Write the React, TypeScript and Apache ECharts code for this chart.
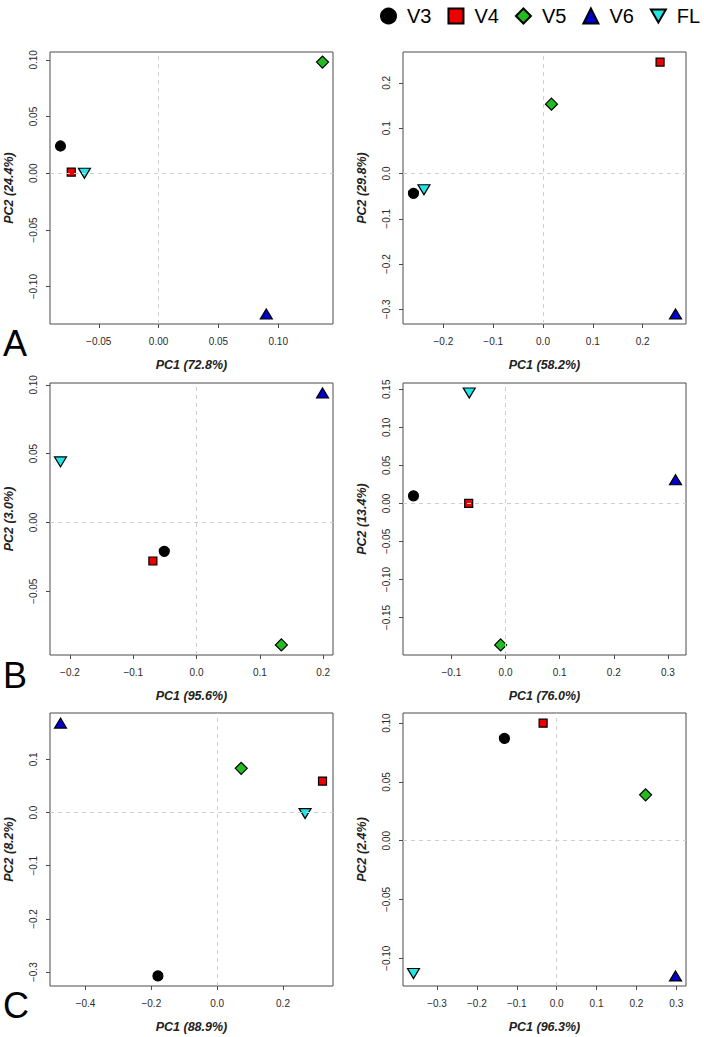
import React, { useEffect, useRef } from "react";
import * as echarts from "echarts";

// Groups (legend order)
const groups = ["V3", "V4", "V5", "V6", "FL"];

// PCA scores per panel, values in group order V3, V4, V5, V6, FL
const pc1A1 = [-0.082, -0.073, 0.137, 0.090, -0.062];
const pc2A1 = [0.024, 0.001, 0.098, -0.124, 0.000];
const pc1A2 = [-0.260, 0.235, 0.017, 0.266, -0.239];
const pc2A2 = [-0.044, 0.246, 0.153, -0.310, -0.036];
const pc1B1 = [-0.051, -0.069, 0.134, 0.199, -0.215];
const pc2B1 = [-0.021, -0.028, -0.089, 0.094, 0.044];
const pc1B2 = [-0.170, -0.068, -0.009, 0.314, -0.067];
const pc2B2 = [0.010, 0.000, -0.186, 0.031, 0.145];
const pc1C1 = [-0.180, 0.320, 0.073, -0.476, 0.267];
const pc2C1 = [-0.307, 0.059, 0.083, 0.168, -0.002];
const pc1C2 = [-0.131, -0.034, 0.223, 0.298, -0.359];
const pc2C2 = [0.087, 0.100, 0.039, -0.115, -0.113];

// Axis titles
const xNames = ["PC1 (72.8%)", "PC1 (58.2%)", "PC1 (95.6%)", "PC1 (76.0%)", "PC1 (88.9%)", "PC1 (96.3%)"];
const yNames = ["PC2 (24.4%)", "PC2 (29.8%)", "PC2 (3.0%)", "PC2 (13.4%)", "PC2 (8.2%)", "PC2 (2.4%)"];

// Tick values
const xTicksA1 = [-0.05, 0, 0.05, 0.1];
const yTicksA1 = [-0.1, -0.05, 0, 0.05, 0.1];
const xTicksA2 = [-0.2, -0.1, 0, 0.1, 0.2];
const yTicksA2 = [-0.3, -0.2, -0.1, 0, 0.1, 0.2];
const xTicksB1 = [-0.2, -0.1, 0, 0.1, 0.2];
const yTicksB1 = [-0.05, 0, 0.05, 0.1];
const xTicksB2 = [-0.1, 0, 0.1, 0.2, 0.3];
const yTicksB2 = [-0.15, -0.1, -0.05, 0, 0.05, 0.1, 0.15];
const xTicksC1 = [-0.4, -0.2, 0, 0.2];
const yTicksC1 = [-0.3, -0.2, -0.1, 0, 0.1];
const xTicksC2 = [-0.3, -0.2, -0.1, 0, 0.1, 0.2, 0.3];
const yTicksC2 = [-0.1, -0.05, 0, 0.05, 0.1];

const xDecimals = [2, 1, 1, 1, 1, 1];
const yDecimals = [2, 1, 2, 2, 1, 2];

const panelLetters = ["A", "B", "C"];

const FONT = "'Liberation Sans', Arial, Helvetica, sans-serif";

const panels = [
  { x: pc1A1, y: pc2A1, xt: xTicksA1, yt: yTicksA1 },
  { x: pc1A2, y: pc2A2, xt: xTicksA2, yt: yTicksA2 },
  { x: pc1B1, y: pc2B1, xt: xTicksB1, yt: yTicksB1 },
  { x: pc1B2, y: pc2B2, xt: xTicksB2, yt: yTicksB2 },
  { x: pc1C1, y: pc2C1, xt: xTicksC1, yt: yTicksC1 },
  { x: pc1C2, y: pc2C2, xt: xTicksC2, yt: yTicksC2 },
];

const symbolDefs: Record<string, any> = {
  V3: { symbol: "circle", size: 10, color: "#000000" },
  V4: { symbol: "rect", size: 8, color: "#ee0000" },
  V5: { symbol: "diamond", size: 12, color: "#22bb22" },
  V6: { symbol: "triangle", size: [12, 10], color: "#0000cc" },
  FL: { symbol: "path://M0,0L2,0L1,1.73Z", size: [12, 10], color: "#22e5e5" },
};

function padRange(vals: number[]) {
  const lo = Math.min(...vals);
  const hi = Math.max(...vals);
  const d = (hi - lo) * 0.04;
  return [lo - d, hi + d];
}

function fmt(v: number, dec: number) {
  const s = Math.abs(v).toFixed(dec);
  return v < -1e-9 ? "\u2212" + s : s;
}

export default function App() {
  const ref = useRef<HTMLDivElement>(null);
  useEffect(() => {
    if (!ref.current) return;
    const chart = echarts.init(ref.current, undefined, { renderer: "svg" });
    const lefts = [50, 403];
    const tops = [52, 383, 713];
    const W = 283;
    const H = 272;
    const grids: any[] = [];
    const xAxes: any[] = [];
    const yAxes: any[] = [];
    const series: any[] = [];
    panels.forEach((p, i) => {
      const col = i % 2;
      const row = Math.floor(i / 2);
      grids.push({
        left: lefts[col],
        top: tops[row],
        width: W,
        height: row === 2 ? H + 1 : H,
        show: true,
        borderColor: "#4a4a4a",
        borderWidth: 1,
        backgroundColor: "transparent",
      });
      const [xmin, xmax] = padRange(p.x);
      const [ymin, ymax] = padRange(p.y);
      xAxes.push({
        type: "value",
        gridIndex: i,
        min: xmin,
        max: xmax,
        name: xNames[i],
        nameLocation: "middle",
        nameGap: 34,
        nameTextStyle: { fontSize: 12.5, fontWeight: "bold", fontStyle: "italic", color: "#222", fontFamily: FONT },
        axisLine: { show: false, onZero: false },
        axisTick: { show: true, length: 4, inside: false, customValues: p.xt, lineStyle: { color: "#4a4a4a" } },
        axisLabel: {
          customValues: p.xt,
          fontSize: 10,
          color: "#2a2a2a",
          margin: 12,
          fontFamily: FONT,
          formatter: (v: number) => fmt(v, xDecimals[i]),
        },
        splitLine: { show: false },
      });
      yAxes.push({
        type: "value",
        gridIndex: i,
        min: ymin,
        max: ymax,
        name: yNames[i],
        nameLocation: "middle",
        nameGap: 35,
        nameTextStyle: { fontSize: 12.5, fontWeight: "bold", fontStyle: "italic", color: "#222", fontFamily: FONT },
        axisLine: { show: false, onZero: false },
        axisTick: { show: true, length: 4, inside: false, customValues: p.yt, lineStyle: { color: "#4a4a4a" } },
        axisLabel: {
          customValues: p.yt,
          rotate: 90,
          fontSize: 10,
          color: "#2a2a2a",
          margin: 12,
          fontFamily: FONT,
          formatter: (v: number) => fmt(v, yDecimals[i]),
        },
        splitLine: { show: false },
      });
      // zero reference lines
      series.push({
        type: "scatter",
        name: "zero" + i,
        xAxisIndex: i,
        yAxisIndex: i,
        data: [],
        z: 1,
        silent: true,
        markLine: {
          silent: true,
          symbol: "none",
          label: { show: false },
          lineStyle: { type: [4, 4], color: "#cfcfcf", width: 1 },
          data: [{ xAxis: 0 }, { yAxis: 0 }],
        },
      });
      groups.forEach((g, k) => {
        const s = symbolDefs[g];
        series.push({
          type: "scatter",
          name: g,
          xAxisIndex: i,
          yAxisIndex: i,
          z: 3,
          symbol: s.symbol,
          symbolSize: s.size,
          itemStyle: { color: s.color, borderColor: "#000", borderWidth: 1.2, opacity: 1 },
          data: [[p.x[k], p.y[k]]],
        });
      });
    });

    const graphics = panelLetters.map((l, r) => ({
      type: "text",
      left: 3,
      top: [325, 657, 987][r],
      style: { text: l, fontSize: 36, fontFamily: FONT, fill: "#000" },
    }));

    chart.setOption({
      animation: false,
      backgroundColor: "#fff",
      grid: grids,
      xAxis: xAxes,
      yAxis: yAxes,
      series,
      graphic: graphics,
      legend: {
        data: groups,
        orient: "horizontal",
        left: 380,
        top: 6,
        width: 330,
        padding: 0,
        itemGap: 16,
        itemWidth: 15,
        itemHeight: 15,
        symbolKeepAspect: true,
        selectedMode: false,
        textStyle: { fontSize: 20, color: "#000", fontFamily: FONT, padding: [0, 0, 0, 6] },
      },
    });
    return () => chart.dispose();
  }, []);
  return (
    <div
      ref={ref}
      style={{ position: "absolute", left: 0, top: 0, width: 704, height: 1037, background: "#fff" }}
    />
  );
}
